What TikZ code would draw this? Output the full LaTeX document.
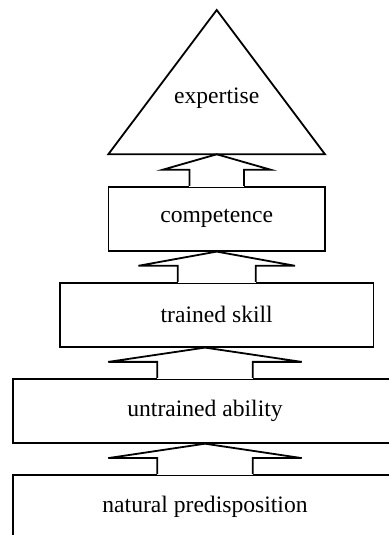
\documentclass[tikz,border=0pt]{standalone}
\usepackage{fontspec}
\setmainfont{Liberation Serif}
\usetikzlibrary{calc}
\tikzset{
  level/.style={draw, line width=0.9pt, fill=white, inner sep=0pt,
    font=\fontsize{11.8}{14}\selectfont},
  outline/.style={line width=0.9pt, line join=miter}
}
% block arrow from the lower node up to a point of the upper one
\newcommand{\StepUp}[4]{%
  \fill[white] ($(#1.north)+(-#3,-1)$) rectangle ($(#1.north)+(#3,16)$);
  \draw[outline] ($(#1.north)+(-#3,0)$) -- ++(0,16) -- ++(#3-#4,0)
    -- (#1.north |- #2) -- ($(#1.north)+(#4,16)$) -- ++(#3-#4,0) -- ++(0,-16);
}

\begin{document}
\begin{tikzpicture}[x=0.5pt,y=0.5pt]
  \useasboundingbox (0,0) rectangle (389,535);
  \coordinate (apex) at (216.7,525);
  \coordinate (bl)   at (108.3,380.7);
  \coordinate (br)   at (325,380.7);
  \coordinate (base) at (216.7,380.7);
  \draw[outline] (apex) -- (bl) -- (br) -- cycle;
  \node[font=\fontsize{11.8}{14}\selectfont] (expertise) at (216.7,437) {expertise};
  \node[level, minimum width=108.3pt, minimum height=32pt] (competence) at (216.7,316.3) {competence};
  \node[level, minimum width=156.7pt, minimum height=32pt] (trained)    at (216.7,220.3) {trained skill};
  \node[level, minimum width=192.3pt, minimum height=32pt] (untrained)  at (205,124.2)   {untrained ability};
  \node[level, minimum width=192.3pt, minimum height=32pt] (natural)    at (205,28)      {natural predisposition};
  \StepUp{competence}{base}{27.3}{54.2}
  \StepUp{trained}{competence.south}{39}{78.3}
  \StepUp{untrained}{trained.south}{47.8}{96.7}
  \StepUp{natural}{untrained.south}{47.8}{96.7}
\end{tikzpicture}
\end{document}
